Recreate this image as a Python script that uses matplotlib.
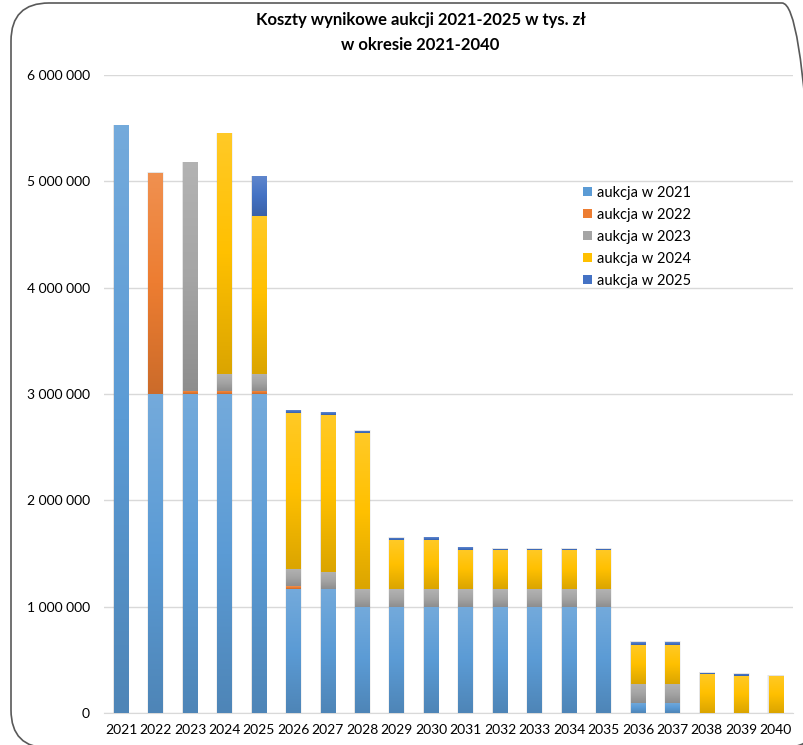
import matplotlib
matplotlib.use("Agg")
import matplotlib.pyplot as plt
import numpy as np
from matplotlib.colors import to_rgb, LinearSegmentedColormap
from matplotlib.patches import FancyBboxPatch, Rectangle
from matplotlib.ticker import FuncFormatter
from matplotlib.transforms import IdentityTransform

years = [str(y) for y in range(2021, 2041)]
series_names = ["aukcja w 2021", "aukcja w 2022", "aukcja w 2023", "aukcja w 2024", "aukcja w 2025"]
a2021 = [5530000, 3000000, 3000000, 3000000, 3000000, 1170000, 1170000, 1000000, 1000000, 1000000,
         1000000, 1000000, 1000000, 1000000, 1000000, 97000, 97000, 0, 0, 0]
a2022 = [0, 2080000, 30000, 30000, 30000, 20000, 0, 0, 0, 0,
         0, 0, 0, 0, 0, 0, 0, 0, 0, 0]
a2023 = [0, 0, 2150000, 160000, 160000, 165000, 160000, 170000, 165000, 165000,
         165000, 165000, 165000, 165000, 165000, 180000, 180000, 0, 0, 0]
a2024 = [0, 0, 0, 2260000, 1480000, 1470000, 1470000, 1460000, 460000, 465000,
         370000, 370000, 370000, 370000, 370000, 367000, 367000, 367000, 348000, 348000]
a2025 = [0, 0, 0, 0, 380000, 25000, 28000, 25000, 25000, 25000,
         25000, 10000, 10000, 10000, 10000, 25000, 25000, 13000, 20000, 3000]
colors = ["#5B9BD5", "#ED7D31", "#A5A5A5", "#FFC000", "#4472C4"]
yticks = [0, 1000000, 2000000, 3000000, 4000000, 5000000, 6000000]

plt.rcParams['font.family'] = ['Lato', 'DejaVu Sans']

W, H = 804, 745
fig = plt.figure(figsize=(W / 100, H / 100), dpi=100)
ax = fig.add_axes([103.8 / W, 1 - 713 / H, (793 - 103.8) / W, (713 - 75) / H])

def shade(c, f):
    r = np.array(to_rgb(c))
    if f > 0:
        return tuple(r + (1 - r) * f)
    return tuple(r * (1 + f))

x = np.arange(len(years))
width = 0.42
bottom = np.zeros(len(years))
data = [a2021, a2022, a2023, a2024, a2025]
for name, vals, c in zip(series_names, data, colors):
    vals = np.array(vals, dtype=float)
    bars = ax.bar(x, vals, width, bottom=bottom, color=c, label=name, zorder=3, linewidth=0)
    cmap = LinearSegmentedColormap.from_list("g", [shade(c, -0.14), c, shade(c, 0.15)])
    grad = np.linspace(0, 1, 64).reshape(-1, 1)
    for b, v in zip(bars, vals):
        if v <= 0:
            continue
        x0, y0 = b.get_x(), b.get_y()
        im = ax.imshow(grad, cmap=cmap, aspect='auto', origin='lower',
                       extent=(x0, x0 + width, y0, y0 + v), zorder=3.5, interpolation='bilinear')
        im.set_clip_path(b)
    bottom += vals

# soft shadows
for xi, tot in zip(x, bottom):
    for k, a in [(0.03, 0.10), (0.015, 0.12)]:
        ax.add_patch(Rectangle((xi - width / 2 - k, 0), width + 2 * k, tot + 4000, color="#808080",
                               alpha=a, linewidth=0, zorder=2.5))

ax.set_xlim(-0.5, len(years) - 0.5)
ax.set_ylim(0, 6000000)
ax.set_xticks(x)
ax.set_xticklabels(years, fontsize=10)
ax.set_yticks(yticks)
ax.yaxis.set_major_formatter(FuncFormatter(lambda v, p: f"{int(v):,}".replace(",", " ")))
ax.tick_params(axis='y', labelsize=10, length=0, pad=10)
ax.tick_params(axis='x', length=0, pad=8)
ax.grid(axis='y', color="#D9D9D9", linewidth=1, zorder=0)
for s in ["top", "right", "left"]:
    ax.spines[s].set_visible(False)
ax.spines["bottom"].set_color("#D9D9D9")
ax.set_facecolor("none")

fig.text(0.523, 1 - 12 / H, "Koszty wynikowe aukcji 2021-2025 w tys. zł\nw okresie 2021-2040",
         ha="center", va="top", fontsize=12, fontweight="bold", linespacing=1.7)

leg = ax.legend(loc="upper left", bbox_to_anchor=(577 / W, 1 - 180 / H), bbox_transform=fig.transFigure,
                frameon=False, fontsize=10.5, handlelength=0.6, handleheight=0.6, handletextpad=0.4,
                labelspacing=0.55, borderaxespad=0)

# outer rounded frame in pixel coordinates
left, right, top, bot = 11, 820, H - 3, -3
frame = FancyBboxPatch((left, bot), right - left, top - bot,
                       boxstyle="round,pad=0,rounding_size=38", transform=IdentityTransform(),
                       fill=False, edgecolor="#595959", linewidth=1.2)
fig.add_artist(frame)

fig.savefig("out.png", dpi=100)
